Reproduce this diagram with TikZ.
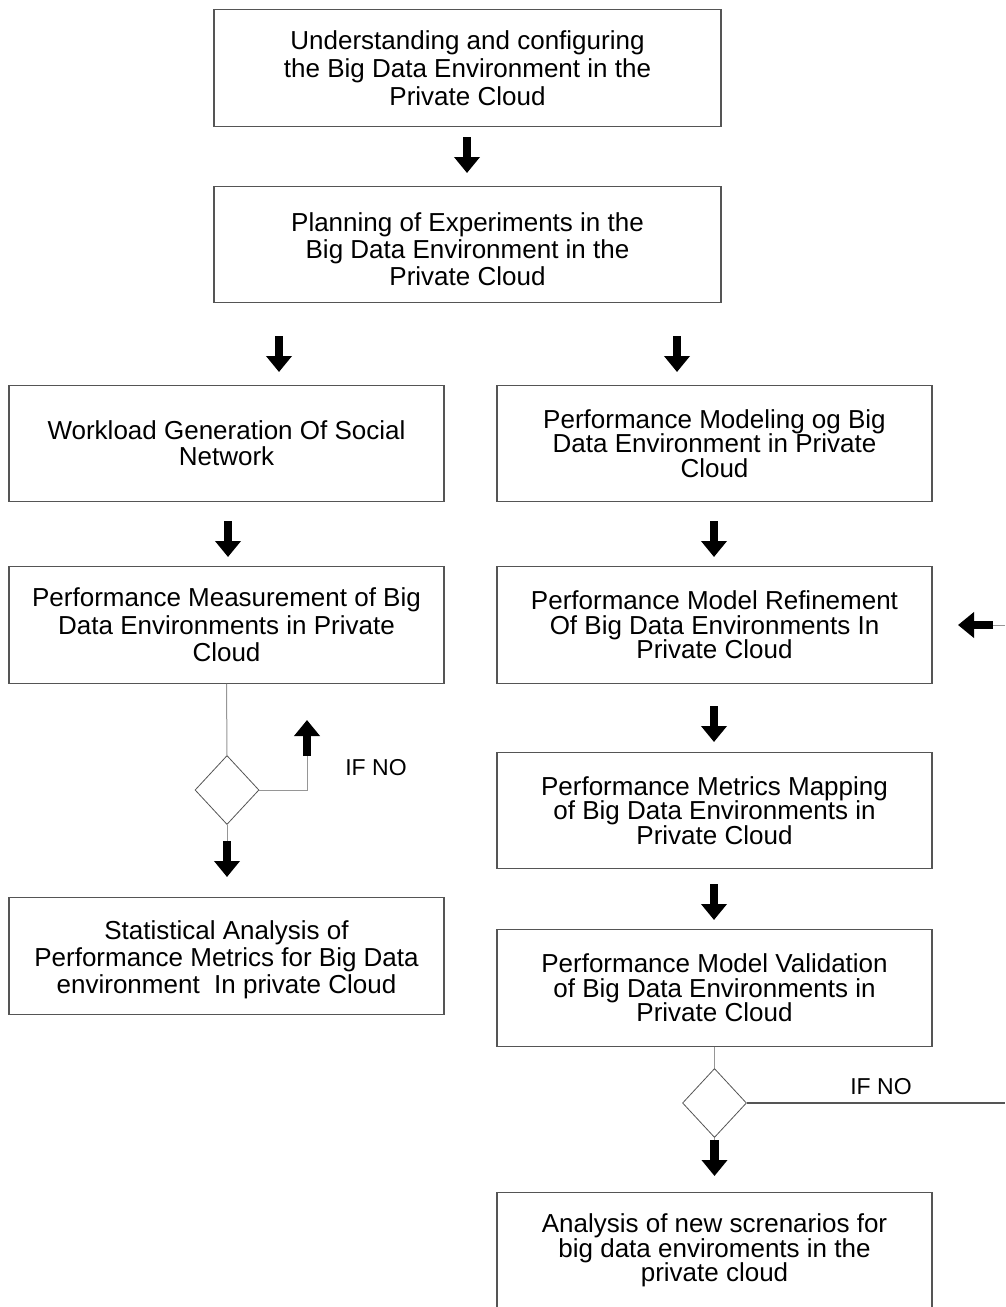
\documentclass[tikz,border=0pt]{standalone}
\usepackage{fontspec}
\setmainfont{Liberation Sans}
\usetikzlibrary{arrows.meta,shapes.geometric}
\definecolor{boxline}{RGB}{85,85,85}
\definecolor{thinline}{RGB}{150,150,150}
\tikzset{
  box/.style={draw=boxline, line width=1.1pt, rectangle, inner sep=0pt,
    minimum width=#1, minimum height=116.5pt, align=center, text=black},
  box/.default=435pt,
  tA/.style={font=\fontsize{26}{28}\selectfont},
  tB/.style={font=\fontsize{26}{24.5}\selectfont},
  blockarrow/.style={line width=8.5pt, -{Triangle[width=25pt,length=16pt]}, black},
  thin/.style={draw=thinline, line width=1pt},
  decision/.style={diamond, draw=boxline, line width=0.8pt, inner sep=0pt,
    minimum width=64pt, minimum height=69pt},
  lbl/.style={font=\fontsize{23}{24}\selectfont, text=black, inner sep=0pt}
}
\newcommand{\pushdown}[1]{\rule{0pt}{#1}}
\begin{document}
\begin{tikzpicture}[x=1pt,y=-1pt]
\useasboundingbox[fill=white] (0,0) rectangle (1005,1307);

\node[box=507pt, tA] (b1) at (467.5,68) {Understanding and configuring\\the Big Data Environment in the\\Private Cloud};
\node[box=507pt, font=\fontsize{26}{27}\selectfont] (b2) at (467.5,244.5) {\pushdown{28pt}Planning of Experiments in the\\Big Data Environment in the\\Private Cloud};
\node[box, font=\fontsize{26}{26}\selectfont] (b3) at (226.5,443.5) {Workload Generation Of Social\\Network};
\node[box, tB] (b4) at (714.5,443.5) {Performance Modeling og Big\\Data Environment in Private\\Cloud};
\node[box, font=\fontsize{26}{27.5}\selectfont] (b5) at (226.5,625) {Performance Measurement of Big\\Data Environments in Private\\Cloud};
\node[box, tB] (b6) at (714.5,625) {Performance Model Refinement\\Of Big Data Environments In\\Private Cloud};
\node[box, font=\fontsize{26}{27}\selectfont] (b7) at (226.5,956) {\pushdown{27pt}Statistical Analysis of\\Performance Metrics for Big Data\\environment~ In private Cloud};
\node[box, tB] (b8) at (714.5,810.5) {Performance Metrics Mapping\\of Big Data Environments in\\Private Cloud};
\node[box, tB] (b9) at (714.5,988) {Performance Model Validation\\of Big Data Environments in\\Private Cloud};
\node[box, tB] (b10) at (714.5,1250.5) {Analysis of new screnarios for\\big data enviroments in the\\private cloud};

% decisions
\node[decision] (d1) at (227,790) {};
\node[decision] (d2) at (714.5,1103) {};

% labels
\node[lbl] (l1) at (376,768) {IF NO};
\node[lbl] (l2) at (881,1087) {IF NO};

% free coordinates
\coordinate (r1) at (307,790);
\coordinate (r2) at (307,756);
\coordinate (r3) at (307,720);
\coordinate (e1) at (1005,1103);
\coordinate (e2) at (1005,625);
\coordinate (e3) at (993,625);
\coordinate (e4) at (958,625);

% block arrows between boxes
\draw[blockarrow] (467,137) -- (467,173);
\draw[blockarrow] (279,336) -- (279,372);
\draw[blockarrow] (677,336) -- (677,372);
\draw[blockarrow] (228,521) -- (228,557);
\draw[blockarrow] (714,521) -- (714,557);
\draw[blockarrow] (714,706) -- (714,742);
\draw[blockarrow] (714,884) -- (714,920);

% left decision
\draw[thin] (b5.south) -- (d1.north);
\draw[thin] (d1.east) -- (r1) -- (r2);
\draw[blockarrow] (r2) -- (r3);
\draw[thin] (d1.south) -- (227,842);
\draw[blockarrow] (227,841) -- (227,877);

% right decision
\draw[thin] (b9.south) -- (d2.north);
\draw[boxline, line width=1.1pt] (d2.east) -- (e1);
\draw[thin] (d2.south) -- (714.5,1141);
\draw[blockarrow] (714.5,1140) -- (714.5,1176);

% feedback arrow on the right edge
\draw[thin] (e2) -- (e3);
\draw[blockarrow] (e3) -- (e4);
\end{tikzpicture}
\end{document}
